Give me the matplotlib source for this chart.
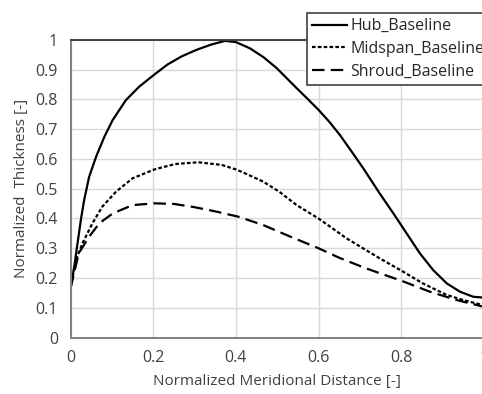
import numpy as np
import matplotlib.pyplot as plt

plt.rcParams['font.family'] = ['Open Sans', 'DejaVu Sans']
plt.rcParams['lines.scale_dashes'] = False

# values
hub_x = [0.0, 0.009, 0.017, 0.025, 0.033, 0.045, 0.062, 0.082, 0.102, 0.134, 0.166,
         0.203, 0.235, 0.269, 0.305, 0.341, 0.374, 0.40, 0.434, 0.467, 0.499, 0.547,
         0.575, 0.6, 0.626, 0.652, 0.68, 0.708, 0.748, 0.781, 0.813, 0.845, 0.877,
         0.91, 0.942, 0.974, 1.0]
hub_y = [0.166, 0.238, 0.317, 0.395, 0.462, 0.54, 0.608, 0.675, 0.731, 0.798, 0.843,
         0.884, 0.918, 0.945, 0.967, 0.985, 0.997, 0.993, 0.972, 0.942, 0.905, 0.838,
         0.80, 0.765, 0.725, 0.68, 0.625, 0.569, 0.484, 0.417, 0.35, 0.283, 0.227,
         0.182, 0.154, 0.137, 0.134]

mid_x = [0.0, 0.013, 0.029, 0.053, 0.077, 0.11, 0.15, 0.203, 0.253, 0.309, 0.366,
         0.40, 0.422, 0.466, 0.505, 0.547, 0.6, 0.668, 0.748, 0.8, 0.852, 0.91,
         0.95, 1.0]
mid_y = [0.166, 0.26, 0.317, 0.384, 0.44, 0.49, 0.535, 0.565, 0.583, 0.589, 0.58,
         0.565, 0.552, 0.524, 0.49, 0.445, 0.40, 0.333, 0.266, 0.225, 0.182, 0.143,
         0.126, 0.108]

shr_x = [0.0, 0.02, 0.045, 0.07, 0.102, 0.15, 0.203, 0.25, 0.30, 0.35, 0.406,
         0.466, 0.53, 0.6, 0.65, 0.708, 0.748, 0.8, 0.869, 0.934, 1.0]
shr_y = [0.166, 0.283, 0.339, 0.384, 0.417, 0.445, 0.451, 0.449, 0.438, 0.424, 0.406,
         0.378, 0.34, 0.30, 0.268, 0.236, 0.216, 0.191, 0.154, 0.126, 0.103]

x_ticks = [0, 0.2, 0.4, 0.6, 0.8, 1]
x_labels = ['0', '0.2', '0.4', '0.6', '0.8', '1']
y_ticks = [0, 0.1, 0.2, 0.3, 0.4, 0.5, 0.6, 0.7, 0.8, 0.9, 1]
y_labels = ['0', '0.1', '0.2', '0.3', '0.4', '0.5', '0.6', '0.7', '0.8', '0.9', '1']

fig = plt.figure(figsize=(4.82, 3.94), dpi=100)
ax = fig.add_axes([0.1463, 0.1434, 1.004 - 0.1463, 0.8985 - 0.1434])

ax.plot(hub_x, hub_y, color='black', lw=1.6, label='Hub_Baseline')
ax.plot(mid_x, mid_y, color='black', lw=1.6, linestyle=(0, (2.6, 1.6)), label='Midspan_Baseline')
ax.plot(shr_x, shr_y, color='black', lw=1.6, linestyle=(0, (9, 4.5)), label='Shroud_Baseline')

ax.set_xlim(0, 1)
ax.set_ylim(0, 1)
ax.set_xticks(x_ticks)
ax.set_xticklabels(x_labels)
ax.set_yticks(y_ticks)
ax.set_yticklabels(y_labels)
ax.tick_params(length=0, labelsize=11.5, labelcolor='#404040', pad=9)
ax.grid(True, color='#d9d9d9', lw=1)
ax.set_axisbelow(True)

for s in ['left', 'bottom']:
    ax.spines[s].set_color('#7f7f7f')
    ax.spines[s].set_linewidth(1.4)
ax.spines['top'].set_color('#404040')
ax.spines['top'].set_linewidth(1.4)
ax.spines['right'].set_visible(False)

ax.set_xlabel('Normalized Meridional Distance [-]', fontsize=11, color='#404040', labelpad=6)
ax.set_ylabel('Normalized  Thickness [-]', fontsize=11, color='#404040', labelpad=5)

leg = fig.legend(loc='upper left', bbox_to_anchor=(0.637, 0.967), fontsize=11.5,
                 frameon=True, fancybox=False, handlelength=2.2, handletextpad=0.2,
                 labelspacing=0.42, borderpad=0.32, borderaxespad=0)
leg.get_frame().set_edgecolor('#404040')
leg.get_frame().set_linewidth(1.2)
leg.get_frame().set_alpha(1)
for t in leg.get_texts():
    t.set_color('#262626')

fig.savefig('out.png', dpi=100)
